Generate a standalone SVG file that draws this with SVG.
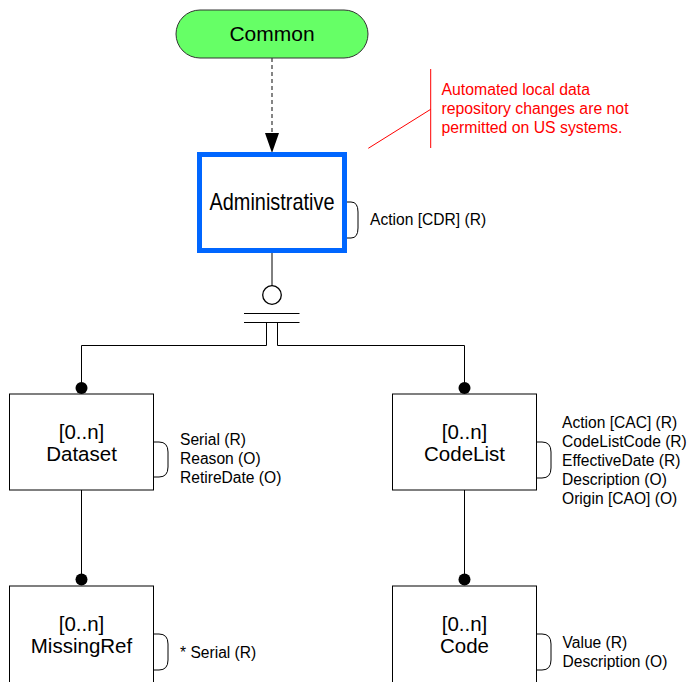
<svg xmlns="http://www.w3.org/2000/svg" width="694" height="682" viewBox="0 0 694 682">
<style>
text{font-family:"Liberation Sans",Arial,sans-serif;fill:#000}
.lbl{font-size:20.5px;text-anchor:middle}
.att{font-size:15.6px}
.note{font-size:15.8px;fill:#ff0000}
.box{fill:#fff;stroke:#000;stroke-width:1}
.ln{fill:none;stroke:#000;stroke-width:1}
.br{fill:none;stroke:#000;stroke-width:1}
</style>
<defs>
<marker id="arr" markerWidth="14" markerHeight="20" refX="7" refY="20" orient="auto" markerUnits="userSpaceOnUse" viewBox="0 0 14 20">
<path d="M0,0 L14,0 L7,20 Z" transform="rotate(-90 7 10) translate(0 0)" fill="#000"/>
</marker>
</defs>
<g id="connectors">
<line x1="272" y1="58" x2="272" y2="134" stroke="#444" stroke-width="1.3" stroke-dasharray="4,3"/>
<path d="M265,133 L279,133 L272,153 Z" fill="#000"/>
<line class="ln" x1="272" y1="253" x2="272" y2="286"/>
<circle cx="272" cy="295" r="9.3" fill="#fff" stroke="#000" stroke-width="1.3"/>
<line class="ln" x1="244" y1="313.5" x2="299.5" y2="313.5" stroke-width="1.3"/>
<line class="ln" x1="244" y1="322.5" x2="299.5" y2="322.5" stroke-width="1.3"/>
<path class="ln" d="M266.5,322.5 V345.5 H81.5 V388"/>
<path class="ln" d="M277.5,322.5 V345.5 H464.5 V388"/>
<circle cx="81.5" cy="388" r="6" fill="#000"/>
<circle cx="464.5" cy="388" r="6" fill="#000"/>
<line class="ln" x1="81.5" y1="490" x2="81.5" y2="579"/>
<line class="ln" x1="464.5" y1="490" x2="464.5" y2="579"/>
<circle cx="81.5" cy="579.5" r="6" fill="#000"/>
<circle cx="464.5" cy="579.5" r="6" fill="#000"/>
</g>
<g id="common">
<rect x="176" y="10" width="192" height="48" rx="24" ry="24" fill="#66ff66" stroke="#333" stroke-width="1"/>
<text x="272" y="41" class="lbl" style="font-size:21px">Common</text>
</g>
<g id="note">
<line x1="430.7" y1="69" x2="430.7" y2="148" stroke="#ff0000" stroke-width="1"/>
<line x1="368.3" y1="148.3" x2="430.7" y2="109.3" stroke="#ff0000" stroke-width="1"/>
<text class="note" x="441.5" y="95">Automated local data</text>
<text class="note" x="441.5" y="114">repository changes are not</text>
<text class="note" x="441.5" y="133">permitted on US systems.</text>
</g>
<g id="administrative">
<rect x="199.5" y="154.5" width="145" height="96" fill="#fff" stroke="#0066ff" stroke-width="5"/>
<text x="272" y="210" class="lbl" style="font-size:24px" textLength="125" lengthAdjust="spacingAndGlyphs">Administrative</text>
<path class="br" d="M347,202 H351 Q358,202 358,212 V228 Q358,238 351,238 H347"/>
<text class="att" x="370" y="225">Action [CDR] (R)</text>
</g>
<g id="dataset">
<rect class="box" x="9.5" y="394" width="144" height="96"/>
<text class="lbl" x="81.5" y="439">[0..n]</text>
<text class="lbl" x="81.5" y="461">Dataset</text>
<path class="br" d="M153.5,442 H159 Q168,442 168,452 V467 Q168,477 159,477 H153.5"/>
<text class="att" x="180" y="445">Serial (R)</text>
<text class="att" x="180" y="464">Reason (O)</text>
<text class="att" x="180" y="483">RetireDate (O)</text>
</g>
<g id="codelist">
<rect class="box" x="392.5" y="394" width="144" height="96"/>
<text class="lbl" x="464.5" y="439">[0..n]</text>
<text class="lbl" x="464.5" y="461">CodeList</text>
<path class="br" d="M536.5,442 H542 Q551,442 551,452 V468 Q551,478 542,478 H536.5"/>
<text class="att" x="562" y="427.5">Action [CAC] (R)</text>
<text class="att" x="562" y="446.5">CodeListCode (R)</text>
<text class="att" x="562" y="465.5">EffectiveDate (R)</text>
<text class="att" x="562" y="484.5">Description (O)</text>
<text class="att" x="562" y="503.5">Origin [CAO] (O)</text>
</g>
<g id="missingref">
<rect class="box" x="9.5" y="586" width="144" height="110"/>
<text class="lbl" x="81.5" y="631">[0..n]</text>
<text class="lbl" x="81.5" y="653">MissingRef</text>
<path class="br" d="M153.5,634 H159 Q168,634 168,644 V660 Q168,670 159,670 H153.5"/>
<text class="att" x="180" y="657.5">* Serial (R)</text>
</g>
<g id="code">
<rect class="box" x="392.5" y="586" width="144" height="110"/>
<text class="lbl" x="464.5" y="631">[0..n]</text>
<text class="lbl" x="464.5" y="653">Code</text>
<path class="br" d="M536.5,634 H542 Q551,634 551,644 V660 Q551,670 542,670 H536.5"/>
<text class="att" x="562.5" y="648">Value (R)</text>
<text class="att" x="562.5" y="667">Description (O)</text>
</g>
</svg>
